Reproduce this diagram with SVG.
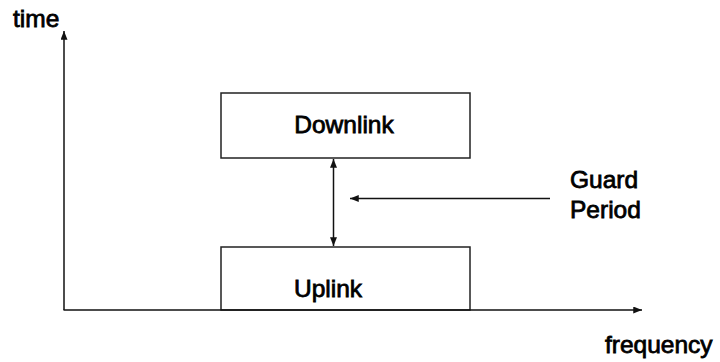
<svg xmlns="http://www.w3.org/2000/svg" width="720" height="362" viewBox="0 0 720 362">
<style>
.ln{stroke:#111;stroke-width:1.5;fill:none}
.box{stroke:#222;stroke-width:1.5;fill:#fff}
.t{font-family:"Liberation Sans",Arial,sans-serif;font-size:24.5px;fill:#000;stroke:#000;stroke-width:0.8}
</style>
<defs>
<marker id="ah" viewBox="0 0 10 8" refX="10" refY="4" markerWidth="9" markerHeight="7" markerUnits="userSpaceOnUse" orient="auto-start-reverse">
<path d="M0,0 L10,4 L0,8 Z" fill="#111"/>
</marker>
</defs>
<rect width="720" height="362" fill="#fff"/>
<g id="uplink">
<rect class="box" x="221" y="247" width="249" height="63"/>
<text class="t" x="328" y="296.5" text-anchor="middle">Uplink</text>
</g>
<g id="downlink">
<rect class="box" x="221" y="93" width="249" height="65"/>
<text class="t" x="344" y="133.3" text-anchor="middle">Downlink</text>
</g>
<g id="labels">
<text class="t" x="13" y="27">time</text>
<text class="t" x="605" y="353">frequency</text>
<text class="t" x="570" y="188">Guard</text>
<text class="t" x="570" y="218">Period</text>
</g>
<g id="connectors">
<path class="ln" d="M64,310 V31" marker-end="url(#ah)"/>
<path class="ln" d="M63.5,310 H642" marker-end="url(#ah)"/>
<path class="ln" d="M333.5,159 V246" marker-start="url(#ah)" marker-end="url(#ah)"/>
<path class="ln" d="M550,198.5 H350" marker-end="url(#ah)"/>
</g>
</svg>
